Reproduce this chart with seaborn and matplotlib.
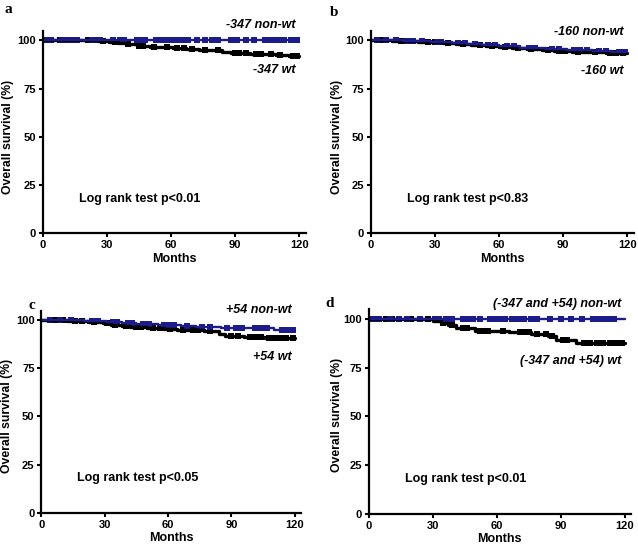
import numpy as np
import pandas as pd
import matplotlib
matplotlib.use('Agg')
import matplotlib.pyplot as plt
import seaborn as sns

sns.set_style('white')
plt.rcParams['font.family'] = ['Liberation Sans', 'DejaVu Sans']
plt.rcParams['text.color'] = 'black'
plt.rcParams['axes.labelcolor'] = 'black'

BLUE = '#1c1c8a'
BLACK = '#000000'

# ---- panel a : -347 ----
a_wt_t = [0, 26, 31, 35, 39, 44, 50, 56, 61, 67, 73, 79, 84, 88, 97, 104, 109, 115, 120]
a_wt_s = [100, 99.6, 99.2, 98.7, 98.2, 97.3, 96.7, 96.4, 96.0, 95.6, 95.2, 94.8, 94.1, 93.6, 93.1, 92.9, 92.5, 91.7, 91.7]
a_wt_c = [8, 12, 15, 21, 24, 28, 34, 40, 45, 47, 52, 58, 63, 66, 70, 76, 82, 90, 92, 95, 100, 102, 107, 111, 117, 119]
a_nw_t = [0, 120]
a_nw_s = [100, 100]
a_nw_c = [2, 4, 9, 11, 13, 16, 23, 25, 27, 33, 36, 38, 44, 45, 48, 53, 55, 57, 60, 63, 65, 68, 72, 76, 79, 82,
          88, 91, 95, 99, 104, 106, 108, 110, 113, 116, 119]

# ---- panel b : -160 ----
b_wt_t = [0, 10, 22, 34, 40, 47, 54, 60, 66, 73, 80, 86, 94, 102, 110, 120]
b_wt_s = [100, 99.7, 99.3, 98.9, 98.3, 97.8, 97.2, 96.6, 96.0, 95.4, 95.0, 94.5, 94.2, 93.8, 93.4, 93.4]
b_wt_c = [5, 14, 18, 27, 30, 36, 43, 51, 57, 63, 69, 75, 83, 88, 91, 97, 105, 112, 115, 118]
b_nw_t = [0, 15, 28, 38, 45, 52, 60, 70, 82, 92, 104, 113, 120]
b_nw_s = [100, 99.7, 99.4, 98.7, 98.1, 97.5, 96.9, 96.2, 95.4, 94.9, 94.4, 93.8, 93.8]
b_nw_c = [3, 7, 12, 17, 20, 24, 31, 33, 41, 44, 49, 55, 58, 64, 67, 74, 77, 85, 88, 95, 98, 101, 107, 110, 116, 119]

# ---- panel c : +54 ----
c_wt_t = [0, 12, 22, 29, 33, 38, 42, 50, 58, 64, 70, 77, 84, 87, 96, 106, 120]
c_wt_s = [100, 99.6, 99.3, 98.6, 97.8, 97.2, 96.3, 96.0, 95.7, 95.2, 94.9, 94.3, 93.1, 92.0, 91.6, 90.6, 90.6]
c_wt_c = [6, 10, 16, 19, 25, 31, 35, 40, 45, 47, 53, 56, 61, 67, 72, 74, 80, 90, 93, 99, 101, 104, 108, 110, 113, 116, 119]
c_nw_t = [0, 20, 31, 38, 45, 55, 66, 73, 85, 98, 110, 120]
c_nw_s = [100, 99.7, 99.2, 98.6, 98.1, 97.8, 97.3, 96.6, 96.2, 95.8, 94.9, 94.9]
c_nw_c = [4, 9, 14, 24, 27, 34, 36, 41, 43, 48, 51, 58, 61, 63, 69, 76, 80, 88, 92, 95, 101, 104, 107, 114, 117, 119]

# ---- panel d : -347 and +54 ----
d_wt_t = [0, 30, 34, 37, 41, 50, 60, 66, 76, 84, 88, 97, 120]
d_wt_s = [100, 99.0, 98.0, 96.8, 95.2, 94.0, 94.0, 93.2, 92.4, 91.2, 89.3, 87.6, 87.6]
d_wt_c = [5, 8, 11, 14, 20, 24, 28, 35, 39, 44, 46, 52, 54, 56, 63, 71, 73, 75, 79, 83, 86, 91, 93,
          101, 104, 107, 110, 113, 116, 119]
d_nw_t = [0, 120]
d_nw_s = [100, 100]
d_nw_c = [2, 5, 10, 14, 18, 24, 31, 33, 36, 39, 44, 47, 49, 52, 57, 59, 61, 64, 67, 70, 73, 76, 79, 85, 90, 95,
          100, 105, 107, 110, 112, 115]

panels = [
    dict(letter='a', rect=[0.067, 0.576, 0.412, 0.368], letter_xy=(0.013, 0.982), ylab_xy=(-0.133, 0.474),
         wt=(a_wt_t, a_wt_s, a_wt_c), nw=(a_nw_t, a_nw_s, a_nw_c),
         nw_label='-347 non-wt', wt_label='-347 wt', nw_y=108, wt_y=84.5, p='Log rank test p<0.01'),
    dict(letter='b', rect=[0.581, 0.576, 0.412, 0.368], letter_xy=(0.524, 0.978), ylab_xy=(-0.128, 0.474),
         wt=(b_wt_t, b_wt_s, b_wt_c), nw=(b_nw_t, b_nw_s, b_nw_c),
         nw_label='-160 non-wt', wt_label='-160 wt', nw_y=104.5, wt_y=84, p='Log rank test p<0.83'),
    dict(letter='c', rect=[0.065, 0.068, 0.407, 0.367], letter_xy=(0.050, 0.445), ylab_xy=(-0.134, 0.48),
         wt=(c_wt_t, c_wt_s, c_wt_c), nw=(c_nw_t, c_nw_s, c_nw_c),
         nw_label='+54 non-wt', wt_label='+54 wt', nw_y=105.5, wt_y=81, p='Log rank test p<0.05'),
    dict(letter='d', rect=[0.578, 0.066, 0.411, 0.372], letter_xy=(0.517, 0.449), ylab_xy=(-0.122, 0.484),
         wt=(d_wt_t, d_wt_s, d_wt_c), nw=(d_nw_t, d_nw_s, d_nw_c),
         nw_label='(-347 and +54) non-wt', wt_label='(-347 and +54) wt', nw_y=107.5, wt_y=78.5,
         p='Log rank test p<0.01'),
]


def draw_curve(ax, t, s, cens, color, lw):
    curve = pd.DataFrame({'t': t, 's': s})
    sns.lineplot(data=curve, x='t', y='s', drawstyle='steps-post', color=color, lw=lw,
                 estimator=None, sort=False, ax=ax)
    # censor marks sit on the step curve
    idx = np.searchsorted(np.array(t), np.array(cens), side='right') - 1
    marks = pd.DataFrame({'t': cens, 's': np.array(s)[idx]})
    sns.scatterplot(data=marks, x='t', y='s', marker='s', s=18, color=color, linewidth=0, ax=ax)


fig = plt.figure(figsize=(6.38, 5.5), dpi=100)

for p in panels:
    ax = fig.add_axes(p['rect'])
    draw_curve(ax, *p['wt'], BLACK, 2.4)
    draw_curve(ax, *p['nw'], BLUE, 1.7)

    ax.set_xlim(0, 123)
    ax.set_ylim(0, 105)
    ax.set_xticks([0, 30, 60, 90, 120])
    ax.set_yticks([0, 25, 50, 75, 100])
    sns.despine(ax=ax)
    for sp in ['left', 'bottom']:
        ax.spines[sp].set_linewidth(1.6)
        ax.spines[sp].set_color('black')
    ax.tick_params(direction='out', length=3, width=1.5, labelsize=8, pad=2,
                   left=True, bottom=True, colors='black')
    for lab in ax.get_xticklabels() + ax.get_yticklabels():
        lab.set_fontweight('bold')
    ax.set_xlabel('Months', fontsize=9, fontweight='bold', labelpad=2)
    ax.set_ylabel('Overall survival (%)', fontsize=8.8, fontweight='bold', va='center')
    ax.yaxis.set_label_coords(*p['ylab_xy'])

    ax.text(118.5, p['nw_y'], p['nw_label'], ha='right', va='center', fontsize=9,
            fontweight='bold', fontstyle='italic', clip_on=False)
    ax.text(118.5, p['wt_y'], p['wt_label'], ha='right', va='center', fontsize=9,
            fontweight='bold', fontstyle='italic')
    ax.text(17, 18, p['p'], ha='left', va='center', fontsize=9, fontweight='bold')

    fig.text(*p['letter_xy'], p['letter'], ha='center', va='center', fontsize=11,
             fontweight='bold', family=['Liberation Serif', 'DejaVu Serif'])

plt.savefig('out.png', dpi=100)
